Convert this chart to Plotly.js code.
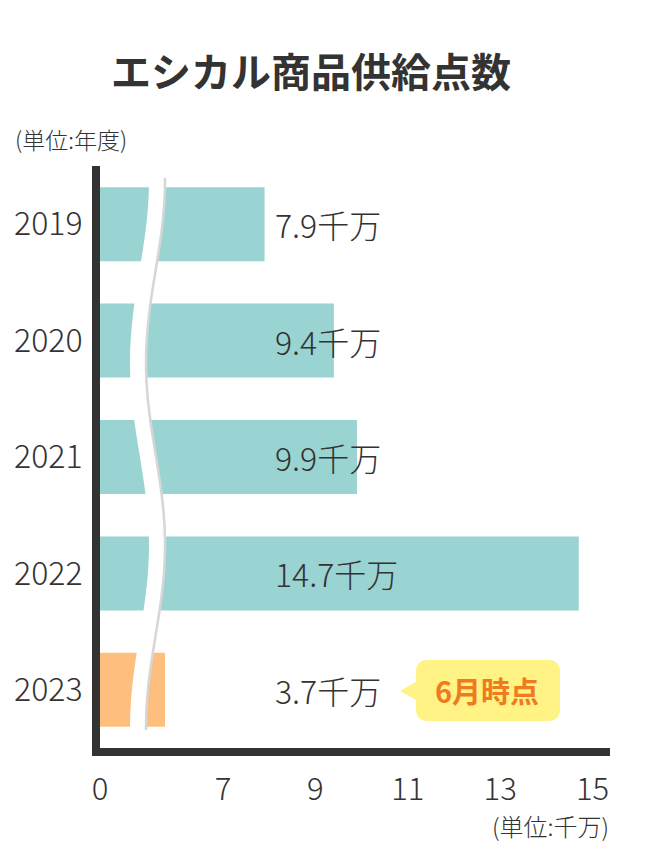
<!DOCTYPE html>
<html>
<head>
<meta charset="utf-8">
<script src="https://cdn.plot.ly/plotly-3.0.1.min.js"></script>
<style>
  html, body { margin: 0; padding: 0; background: #fff; }
  #chart { width: 650px; height: 864px; }
</style>
</head>
<body>
<div id="chart"></div>
<script>
// data (千万)
var years = ['2019', '2020', '2021', '2022', '2023'];
var supply = [7.9, 9.4, 9.9, 14.7, 3.7];
var barColors = ['#9AD4D2', '#9AD4D2', '#9AD4D2', '#9AD4D2', '#FDBE7E'];
var tickValues = [0, 7, 9, 11, 13, 15];
var noteText = '6月時点';

var FONT = '"Noto Sans CJK JP", "Noto Sans", sans-serif';
var DARK = '#333333';

// broken axis: 0-7 squeezed, 7-15 linear (screen px from plot left)
var BREAK = 7, LOW_W = 123, SLOPE = 46.2;
function brk(v) {
    return v <= BREAK ? v * LOW_W / BREAK : LOW_W + (v - BREAK) * SLOPE;
}

// plot box in page px
var L = 100, R = 610, T = 166, B = 748;
function P(px, py) {
    return (px - L) + ',' + ((B - py) / (B - T));
}

var rows = years.map(function (d, i) { return i; });

var trace = {
    type: 'bar',
    orientation: 'h',
    y: rows,
    x: supply.map(brk),
    marker: { color: barColors },
    hoverinfo: 'skip'
};

var annotations = rows.map(function (i) {
    return {
        x: 173, y: i, xref: 'x', yref: 'y',
        text: supply[i] + '千万',
        showarrow: false, xanchor: 'left', yanchor: 'middle',
        font: { family: FONT, size: 32, color: DARK, weight: 300 }
    };
});
annotations.push({
    x: -0.17, y: 1.047, xref: 'paper', yref: 'paper',
    text: '(単位:年度)', showarrow: false, xanchor: 'left', yanchor: 'middle',
    font: { family: FONT, size: 23, color: DARK, weight: 300 }
});
annotations.push({
    x: 1.002, y: -0.134, xref: 'paper', yref: 'paper',
    text: '(単位:千万)', showarrow: false, xanchor: 'right', yanchor: 'middle',
    font: { family: FONT, size: 24, color: DARK, weight: 300 }
});
annotations.push({
    x: 387, y: years.indexOf('2023'), xref: 'x', yref: 'y',
    text: '<b>' + noteText + '</b>', showarrow: false,
    xanchor: 'center', yanchor: 'middle',
    font: { family: FONT, size: 29, color: '#F07A1E', weight: 900 }
});

// wavy break line
function wave(dx) {
    var pts = [];
    for (var py = 178; py <= 735; py += 8) {
        var px = 155.5 + 9.5 * Math.cos(2 * Math.PI * (py - 180) / 365) + dx;
        pts.push(P(px, py));
    }
    return 'M' + pts.join(' L');
}

// callout bubble
var cx0 = 416, cx1 = 560, cy0 = 660, cy1 = 721, r = 12;
var bubble = 'M' + P(cx0 + r, cy0) +
    ' L' + P(cx1 - r, cy0) + ' Q' + P(cx1, cy0) + ' ' + P(cx1, cy0 + r) +
    ' L' + P(cx1, cy1 - r) + ' Q' + P(cx1, cy1) + ' ' + P(cx1 - r, cy1) +
    ' L' + P(cx0 + r, cy1) + ' Q' + P(cx0, cy1) + ' ' + P(cx0, cy1 - r) +
    ' L' + P(cx0, 700) + ' L' + P(400, 691) + ' L' + P(cx0, 682) +
    ' L' + P(cx0, cy0 + r) + ' Q' + P(cx0, cy0) + ' ' + P(cx0 + r, cy0) + ' Z';

var shapes = [
    { type: 'path', xref: 'x', yref: 'paper', path: wave(-8),
      line: { color: '#ffffff', width: 16 } },
    { type: 'path', xref: 'x', yref: 'paper', path: wave(0),
      line: { color: '#D6D6D6', width: 2.5 } },
    { type: 'path', xref: 'x', yref: 'paper', path: bubble,
      fillcolor: '#FFF386', line: { width: 0 } }
];

var layout = {
    width: 650, height: 864,
    margin: { l: L, r: 650 - R, t: T, b: 864 - B },
    paper_bgcolor: '#ffffff', plot_bgcolor: '#ffffff',
    showlegend: false,
    bargap: 0.364,
    title: {
        text: '<b>エシカル商品供給点数</b>',
        x: 311 / 650, xref: 'container', xanchor: 'center',
        y: 1 - 73 / 864, yref: 'container', yanchor: 'middle',
        font: { family: FONT, size: 40, color: DARK }
    },
    xaxis: {
        range: [0, R - L],
        tickvals: tickValues.map(brk),
        ticktext: tickValues.map(String),
        showgrid: false, zeroline: false,
        showline: true, linecolor: DARK, linewidth: 8,
        ticks: '', ticklabelstandoff: 7,
        tickfont: { family: FONT, size: 31, color: DARK, weight: 300 },
        fixedrange: true
    },
    yaxis: {
        range: [years.length - 0.5, -0.5],
        tickvals: rows,
        ticktext: years,
        showgrid: false, zeroline: false,
        showline: true, linecolor: DARK, linewidth: 8,
        ticks: '', ticklabelstandoff: 3,
        tickfont: { family: FONT, size: 32, color: DARK, weight: 300 },
        fixedrange: true
    },
    annotations: annotations,
    shapes: shapes
};

Plotly.newPlot('chart', [trace], layout, { displayModeBar: false, staticPlot: true });
</script>
</body>
</html>
